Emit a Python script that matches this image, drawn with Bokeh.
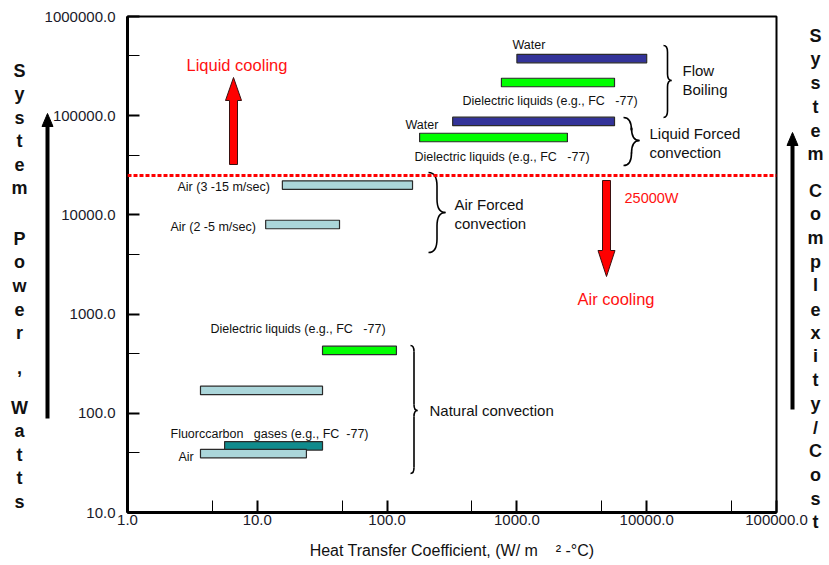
from bokeh.plotting import figure
from bokeh.models import FixedTicker, Span, ColumnDataSource
from bokeh.core.properties import value
from bokeh.embed import file_html
from bokeh.resources import INLINE

# ---------------- data ----------------
x_ticks = [1, 10, 100, 1000, 10000, 100000]
x_tick_labels = ["1.0", "10.0", "100.0", "1000.0", "10000.0", "100000.0"]
y_ticks = [10, 100, 1000, 10000, 100000, 1000000]
y_tick_labels = ["10.0", "100.0", "1000.0", "10000.0", "100000.0", "1000000.0"]

bar_group = ["Flow boiling", "Flow boiling", "Liquid forced", "Liquid forced",
             "Air forced", "Air forced", "Natural", "Natural", "Natural", "Natural"]
bar_medium = ["Water", "Dielectric", "Water", "Dielectric",
              "Air", "Air", "Dielectric", "Air", "Fluorocarbon", "Air"]
bar_h_low = [1000, 760, 320, 178, 15.6, 11.6, 31.8, 3.65, 5.6, 3.65]
bar_h_high = [10000, 5650, 5650, 2450, 157, 43, 118, 31.8, 31.8, 23.9]
bar_power = [377000, 216000, 87500, 60300, 20000, 8000, 430, 170, 47, 39.3]

threshold_power = 25000

medium_colors = {"Water": "#333399", "Dielectric": "#00ff00",
                 "Air": "#abd6da", "Fluorocarbon": "#108b8d"}

# ---------------- layout helpers ----------------
W, H = 829, 565
FL, FR, FT, FB = 127, 776, 16, 512          # frame in canvas px
PX_DEC = (FR - FL) / 5.0
PY_DEC = (FB - FT) / 5.0


def px_x(sx):
    return 10 ** ((sx - FL) / PX_DEC)


def px_y(sy):
    return 10 ** (1 + (FB - sy) / PY_DEC)


p = figure(width=W, height=H, x_axis_type="log", y_axis_type="log",
           x_range=(1, 1e5), y_range=(10, 1e6),
           output_backend="svg", toolbar_location=None, title=None,
           min_border_left=FL, min_border_right=W - FR,
           min_border_top=FT, min_border_bottom=H - FB)
p.background_fill_color = "white"
p.border_fill_color = "white"
p.xgrid.visible = False
p.ygrid.visible = False
p.outline_line_color = "black"
p.outline_line_width = 2
p.outline_line_alpha = 1

FONT = "Liberation Sans"

p.xaxis.ticker = FixedTicker(ticks=x_ticks, minor_ticks=[t * 4.5 for t in x_ticks[:-1]])
p.yaxis.ticker = FixedTicker(ticks=y_ticks, minor_ticks=[t * 4 for t in y_ticks[:-1]])
p.xaxis.major_label_overrides = {t: l for t, l in zip(x_ticks, x_tick_labels)}
p.yaxis.major_label_overrides = {t: l for t, l in zip(y_ticks, y_tick_labels)}

for ax in (p.xaxis[0], p.yaxis[0]):
    ax.axis_line_width = 3
    ax.axis_line_color = "black"
    ax.major_tick_in = 12
    ax.major_tick_out = 0
    ax.minor_tick_in = 12
    ax.minor_tick_out = 0
    ax.major_tick_line_width = 2
    ax.minor_tick_line_width = 1
    ax.major_tick_line_color = "black"
    ax.minor_tick_line_color = "black"
    ax.major_label_text_font = FONT
    ax.major_label_text_font_size = "15px"
    ax.major_label_text_color = "#1a1a2a"

p.yaxis.major_label_standoff = 12
p.xaxis.major_label_standoff = 2
p.xaxis.axis_label = "Heat Transfer Coefficient, (W/ m\u00a0\u00a0\u00a0\u00a0\u00b2 -\u00b0C)"
p.xaxis.axis_label_text_font = FONT
p.xaxis.axis_label_text_font_size = "16px"
p.xaxis.axis_label_text_font_style = "normal"
p.xaxis.axis_label_text_color = "#111111"
p.xaxis.axis_label_standoff = 14

# ---------------- bars ----------------
K = 10 ** (4.25 / PY_DEC)
src = ColumnDataSource(dict(
    left=bar_h_low, right=bar_h_high,
    top=[v * K for v in bar_power], bottom=[v / K for v in bar_power],
    color=[medium_colors[m] for m in bar_medium],
    group=bar_group, medium=bar_medium))
p.quad(left="left", right="right", top="top", bottom="bottom", source=src,
       fill_color="color", line_color="#2a2a2a", line_width=1.2)

# threshold line
p.add_layout(Span(location=threshold_power, dimension="width", line_color="#ff0000",
                  line_width=3, line_dash="4 2"))

# ---------------- text ----------------
txt = dict(x=[], y=[], text=[], size=[], color=[], style=[], align=[])


def label(sx, sy, text, size="12.5px", color="#111111", style="normal", align="left"):
    txt["x"].append(px_x(sx))
    txt["y"].append(px_y(sy))
    txt["text"].append(text)
    txt["size"].append(size)
    txt["color"].append(color)
    txt["style"].append(style)
    txt["align"].append(align)


NB = "\u00a0"
diel = "Dielectric liquids (e.g., FC" + NB * 3 + "-77)"
label(512, 44, "Water")
label(462, 100, diel)
label(405, 124, "Water")
label(414, 156, diel)
label(682, 70, "Flow", size="15px")
label(682, 89, "Boiling", size="15px")
label(649, 133, "Liquid Forced", size="15px")
label(649, 152, "convection", size="15px")
label(177, 186, "Air (3 -15 m/sec)")
label(170, 226, "Air (2 -5 m/sec)")
label(454, 204, "Air Forced", size="15px")
label(454, 223, "convection", size="15px")
label(210, 328, diel)
label(429, 410, "Natural convection", size="15px")
label(170, 433, "Fluorccarbon" + NB * 3 + "gases (e.g., FC" + NB * 2 + "-77)")
label(178, 456, "Air")
label(186, 64, "Liquid cooling", size="16.5px", color="#ff1111")
label(624, 197, "25000W", size="14.5px", color="#ff1111")
label(577, 298, "Air cooling", size="16.5px", color="#ff1111")


# vertical stacked axis titles (one letter per line)
def stack(sx, groups, step):
    for word, sy in groups:
        for i, ch in enumerate(word):
            label(sx, sy + i * step, ch, size="18px", style="bold", align="center")


stack(19, [("System", 70), ("Power", 238), (",", 367), ("Watts", 407)], 23.5)
stack(815, [("System", 35), ("Complexity/Cost", 190)], 23.7)

tsrc = ColumnDataSource(txt)
p.text(x="x", y="y", text="text", source=tsrc, text_font=value(FONT),
       text_font_size="size", text_color="color", text_font_style="style",
       text_align="align", text_baseline="middle", level="overlay")


# ---------------- braces ----------------
def brace(xe, ytop, ybot, ytip, d):
    r = max(d * 1.6, 6)
    bz = [
        ((xe, ytop), (xe + d, ytop + r), (xe + d * 0.8, ytop), (xe + d, ytop + r * 0.4)),
        ((xe + d, ytip - r), (xe + 2 * d, ytip), (xe + d, ytip - r * 0.3), (xe + d * 1.4, ytip)),
        ((xe + 2 * d, ytip), (xe + d, ytip + r), (xe + d * 1.4, ytip), (xe + d, ytip + r * 0.3)),
        ((xe + d, ybot - r), (xe, ybot), (xe + d, ybot - r * 0.4), (xe + d * 0.8, ybot)),
    ]
    p.bezier(x0=[px_x(b[0][0]) for b in bz], y0=[px_y(b[0][1]) for b in bz],
             x1=[px_x(b[1][0]) for b in bz], y1=[px_y(b[1][1]) for b in bz],
             cx0=[px_x(b[2][0]) for b in bz], cy0=[px_y(b[2][1]) for b in bz],
             cx1=[px_x(b[3][0]) for b in bz], cy1=[px_y(b[3][1]) for b in bz],
             line_color="black", line_width=1.6)
    p.segment(x0=[px_x(xe + d)] * 2, y0=[px_y(ytop + r), px_y(ytip + r)],
              x1=[px_x(xe + d)] * 2, y1=[px_y(ytip - r), px_y(ybot - r)],
              line_color="black", line_width=1.6)


brace(663, 45, 117, 80, 4)
brace(623, 117, 165, 140, 8)
brace(428, 172, 252, 212, 8.5)
brace(410, 345, 473, 410, 3.5)


# ---------------- arrows ----------------
def block_arrow(sx, s_from, s_base, s_tip, half_shaft, half_head):
    pts = [(sx - half_shaft, s_from), (sx - half_shaft, s_base), (sx - half_head, s_base),
           (sx, s_tip), (sx + half_head, s_base), (sx + half_shaft, s_base),
           (sx + half_shaft, s_from)]
    p.patch([px_x(a) for a, _ in pts], [px_y(b) for _, b in pts],
            fill_color="#ff0000", line_color="#3a1010", line_width=1)


block_arrow(233, 164, 100, 77, 4, 8)
block_arrow(606, 180, 250, 276, 4, 8.5)

for sx, sb, st in [(47, 418, 113), (792, 409, 132)]:
    p.segment(x0=[px_x(sx)], y0=[px_y(sb)], x1=[px_x(sx)], y1=[px_y(st + 12)],
              line_color="black", line_width=4, level="overlay")
    p.patch([px_x(sx - 5.5), px_x(sx), px_x(sx + 5.5)],
            [px_y(st + 13), px_y(st), px_y(st + 13)],
            fill_color="black", line_color="black", line_width=1, level="overlay")

open("out.html", "w").write(file_html(p, INLINE))
